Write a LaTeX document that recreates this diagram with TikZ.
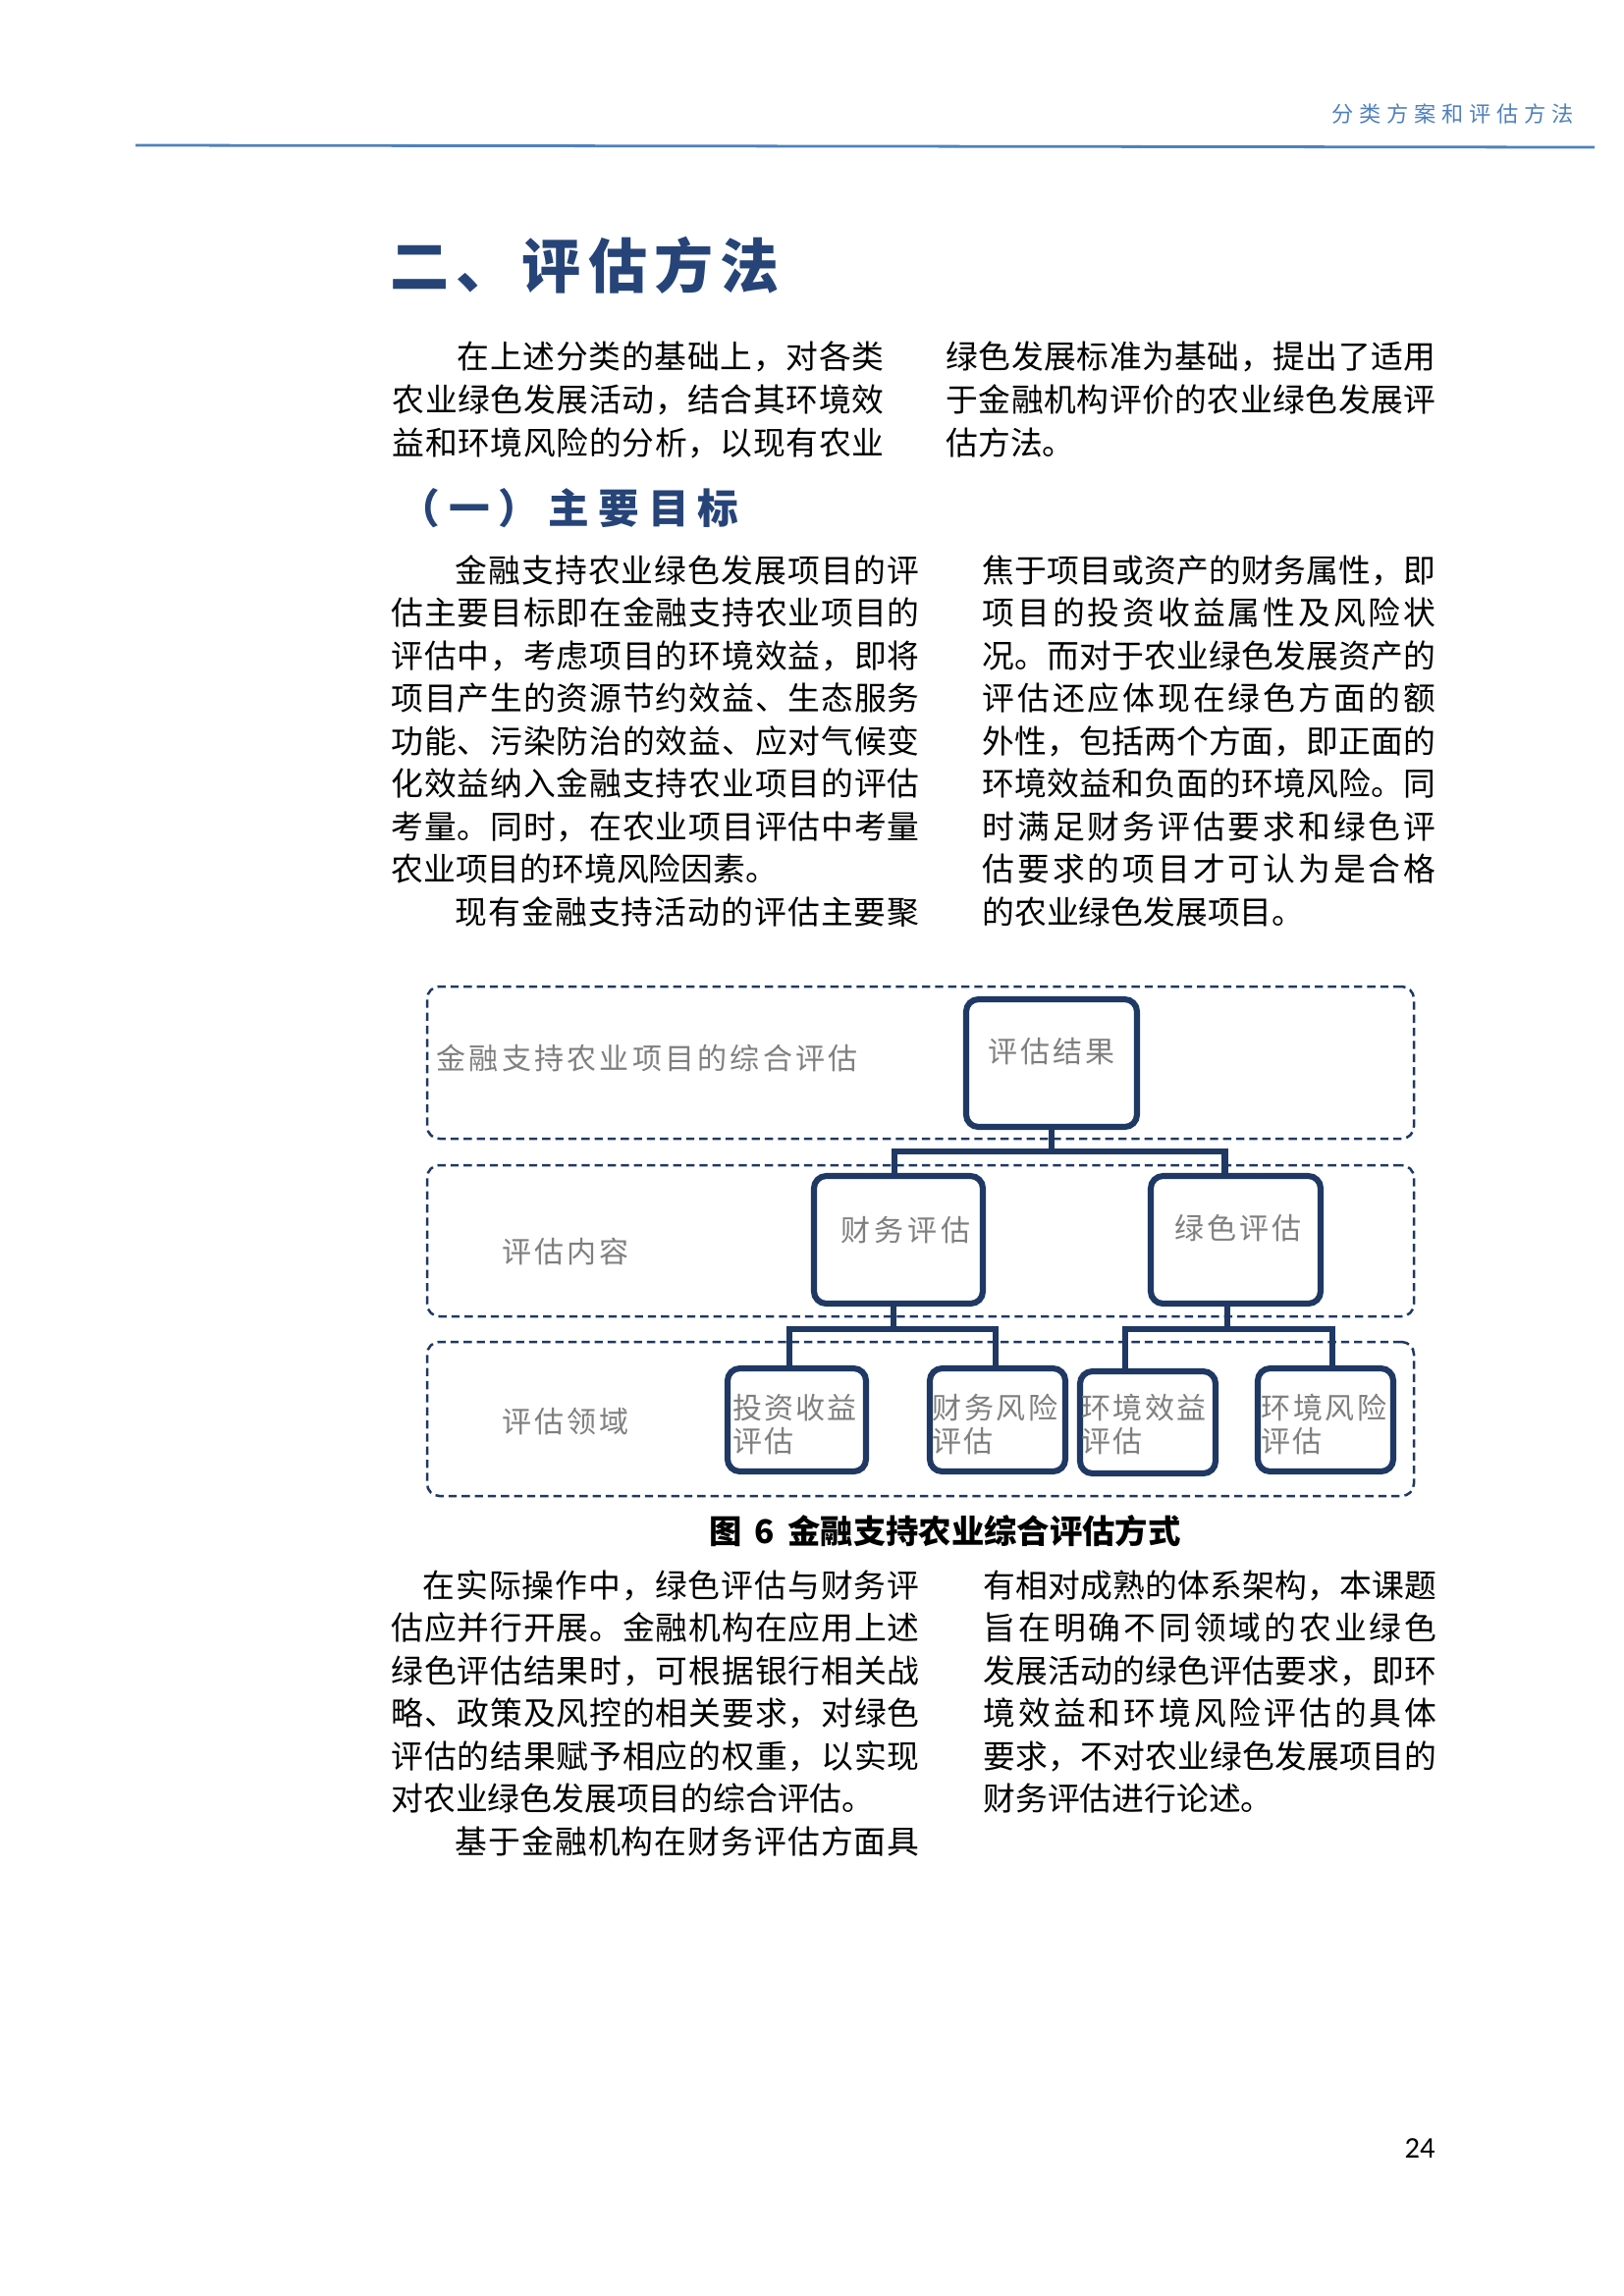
\documentclass[tikz,border=0pt]{standalone}
\usepackage{fontspec}
\setmainfont{Noto Sans CJK SC}
\newfontfamily\numfont{Carlito}
\usetikzlibrary{calc,fit}
\newdimen\pxu \pxu=0.35990pt
\definecolor{navy}{RGB}{31,56,100}
\definecolor{titleblue}{RGB}{38,68,120}
\definecolor{headblue}{RGB}{79,129,189}
\definecolor{textgrey}{RGB}{127,127,127}
\ExplSyntaxOn
\bool_new:N \l_my_first_bool
\NewDocumentCommand\jl{mm}{
  \hbox_to_wd:nn {#1\pxu} {
    \bool_set_true:N \l_my_first_bool
    \tl_map_inline:nn {#2} {
      \bool_if:NTF \l_my_first_bool {\bool_set_false:N \l_my_first_bool}{\hfil}
      ##1 } } }
\ExplSyntaxOff
\begin{document}
\begin{tikzpicture}[x=0.3599pt,y=-0.3599pt,
  body/.style={anchor=base west, inner sep=0, font=\fontsize{11.8}{11.8}\selectfont},
  dtext/.style={anchor=base west, inner sep=0, font=\fontsize{10.8}{10.8}\selectfont, text=textgrey},
  layer/.style={draw=navy, line width=0.9pt, dash pattern=on 3pt off 1.8pt, rounded corners=4.5pt, inner sep=0pt},
  boxn/.style={draw=navy, line width=2.2pt, rounded corners=4.5pt, inner sep=0pt, fill=white},
  conn/.style={draw=navy, line width=2.3pt, line join=miter}]
\useasboundingbox (0,0) rectangle (1654,2339);
\fill[white] (0,0) rectangle (1654,2339);

% header
\node[anchor=base west, inner sep=0, font=\fontsize{8}{8}\selectfont, text=headblue] (head) at (1356,124) {\jl{246}{分类方案和评估方法}};
\draw[headblue, line width=1pt] (138,148) -- (1624,150);

% title
\node[anchor=base west, inner sep=0, font=\fontsize{21.6}{21.6}\selectfont\bfseries, text=titleblue] (title) at (397,293) {\jl{396}{二、评估方法}};

% section 1
\node[body] (p1a) at (465,375) {\jl{435}{在上述分类的基础上，对各类}};
\node[body] (p1b) at (399,419) {\jl{501}{农业绿色发展活动，结合其环境效}};
\node[body] (p1c) at (399,463) {\jl{501}{益和环境风险的分析，以现有农业}};
\node[body] (p1d) at (963,375) {\jl{499}{绿色发展标准为基础，提出了适用}};
\node[body] (p1e) at (963,419) {\jl{499}{于金融机构评价的农业绿色发展评}};
\node[body] (p1f) at (963,463) {估方法。};

% subtitle
\node[anchor=base west, inner sep=0, font=\fontsize{15}{15}\selectfont\bfseries, text=titleblue] (sub) at (406,533) {\jl{346}{（一）主要目标}};

% section 2 left
\node[body] (p2a) at (463,593) {\jl{473}{金融支持农业绿色发展项目的评}};
\node[body] (p2b) at (398,636.5) {\jl{538}{估主要目标即在金融支持农业项目的}};
\node[body] (p2c) at (398,680) {\jl{538}{评估中，考虑项目的环境效益，即将}};
\node[body] (p2d) at (398,723.5) {\jl{538}{项目产生的资源节约效益、生态服务}};
\node[body] (p2e) at (398,767) {\jl{538}{功能、污染防治的效益、应对气候变}};
\node[body] (p2f) at (398,810.5) {\jl{538}{化效益纳入金融支持农业项目的评估}};
\node[body] (p2g) at (398,854) {\jl{538}{考量。同时，在农业项目评估中考量}};
\node[body] (p2h) at (398,897.5) {农业项目的环境风险因素。};
\node[body] (p2i) at (463,941) {\jl{473}{现有金融支持活动的评估主要聚}};
% section 2 right
\node[body] (p2j) at (1000,593) {\jl{462}{焦于项目或资产的财务属性，即}};
\node[body] (p2k) at (1000,636.5) {\jl{462}{项目的投资收益属性及风险状}};
\node[body] (p2l) at (1000,680) {\jl{462}{况。而对于农业绿色发展资产的}};
\node[body] (p2m) at (1000,723.5) {\jl{462}{评估还应体现在绿色方面的额}};
\node[body] (p2n) at (1000,767) {\jl{462}{外性，包括两个方面，即正面的}};
\node[body] (p2o) at (1000,810.5) {\jl{462}{环境效益和负面的环境风险。同}};
\node[body] (p2p) at (1000,854) {\jl{462}{时满足财务评估要求和绿色评}};
\node[body] (p2q) at (1000,897.5) {\jl{462}{估要求的项目才可认为是合格}};
\node[body] (p2r) at (1000,941) {的农业绿色发展项目。};

% diagram layers
\node[layer, fit={(435,1005) (1440,1160)}] (lay1) {};
\node[layer, fit={(435,1187) (1440,1341)}] (lay2) {};
\node[layer, fit={(435,1367) (1440,1524)}] (lay3) {};
\node[dtext] (lab1) at (444,1089) {\jl{429}{金融支持农业项目的综合评估}};
\node[dtext] (lab2) at (511,1286) {\jl{129}{评估内容}};
\node[dtext] (lab3) at (511,1459) {\jl{129}{评估领域}};

% boxes
\node[boxn, fit={(984,1018) (1158,1148)}] (res) {};
\node[boxn, fit={(829,1198) (1001,1328)}] (fin) {};
\node[boxn, fit={(1172,1198) (1345,1328)}] (grn) {};
\node[boxn, fit={(741,1394) (882,1499)}] (inv) {};
\node[boxn, fit={(947,1394) (1085,1499)}] (frk) {};
\node[boxn, fit={(1100,1397) (1238,1501)}] (env) {};
\node[boxn, fit={(1281,1394) (1419,1499)}] (erk) {};

% connectors
\coordinate (bar1) at (1072,1173);
\coordinate (bar2) at (910,1354);
\coordinate (bar3) at (1250,1354);
\draw[conn] (res.south) -- (res.south |- bar1);
\draw[conn] ($(fin.north)+(-4,0)$) -- ($(fin.north |- bar1)+(-4,0)$) -- ($(grn.north |- bar1)+(-11,0)$) -- ($(grn.north)+(-11,0)$);
\draw[conn] ($(fin.south)+(-5,0)$) -- ($(fin.south |- bar2)+(-5,0)$);
\draw[conn] ($(inv.north)+(-7.5,0)$) -- ($(inv.north |- bar2)+(-7.5,0)$) -- ($(frk.north |- bar2)+(-2,0)$) -- ($(frk.north)+(-2,0)$);
\draw[conn] ($(grn.south)+(-8.5,0)$) -- ($(grn.south |- bar3)+(-8.5,0)$);
\draw[conn] ($(env.north)+(-23,0)$) -- ($(env.north |- bar3)+(-23,0)$) -- ($(erk.north |- bar3)+(7,0)$) -- ($(erk.north)+(7,0)$);

% box texts
\node[dtext] (t1) at (1006,1082) {\jl{129}{评估结果}};
\node[dtext] (t2) at (856,1264) {\jl{132}{财务评估}};
\node[dtext] (t3) at (1196,1262) {\jl{129}{绿色评估}};
\node[dtext] (t4a) at (746,1445) {\jl{126}{投资收益}};
\node[dtext] (t4b) at (746,1479) {\jl{62}{评估}};
\node[dtext] (t5a) at (949,1445) {\jl{128}{财务风险}};
\node[dtext] (t5b) at (949,1479) {\jl{62}{评估}};
\node[dtext] (t6a) at (1101,1445) {\jl{127}{环境效益}};
\node[dtext] (t6b) at (1101,1479) {\jl{62}{评估}};
\node[dtext] (t7a) at (1284,1445) {\jl{128}{环境风险}};
\node[dtext] (t7b) at (1284,1479) {\jl{62}{评估}};

% caption
\node[anchor=base west, inner sep=0, font=\fontsize{12}{12}\selectfont\bfseries] (cap) at (722,1572) {图\hspace{4.7pt}6\hspace{4.7pt}金融支持农业综合评估方式};

% section 3 left
\node[body] (p3a) at (430,1627) {\jl{506}{在实际操作中，绿色评估与财务评}};
\node[body] (p3b) at (398,1670.5) {\jl{538}{估应并行开展。金融机构在应用上述}};
\node[body] (p3c) at (398,1714) {\jl{538}{绿色评估结果时，可根据银行相关战}};
\node[body] (p3d) at (398,1757.5) {\jl{538}{略、政策及风控的相关要求，对绿色}};
\node[body] (p3e) at (398,1801) {\jl{538}{评估的结果赋予相应的权重，以实现}};
\node[body] (p3f) at (398,1844.5) {对农业绿色发展项目的综合评估。};
\node[body] (p3g) at (463,1888) {\jl{473}{基于金融机构在财务评估方面具}};
% section 3 right
\node[body] (p3h) at (1001,1627) {\jl{462}{有相对成熟的体系架构，本课题}};
\node[body] (p3i) at (1001,1670.5) {\jl{462}{旨在明确不同领域的农业绿色}};
\node[body] (p3j) at (1001,1714) {\jl{462}{发展活动的绿色评估要求，即环}};
\node[body] (p3k) at (1001,1757.5) {\jl{462}{境效益和环境风险评估的具体}};
\node[body] (p3l) at (1001,1801) {\jl{462}{要求，不对农业绿色发展项目的}};
\node[body] (p3m) at (1001,1844.5) {财务评估进行论述。};

% page number
\node[anchor=base, inner sep=0, font=\numfont\fontsize{11}{11}\selectfont] (pg) at (1446,2198) {24};
\end{tikzpicture}
\end{document}
